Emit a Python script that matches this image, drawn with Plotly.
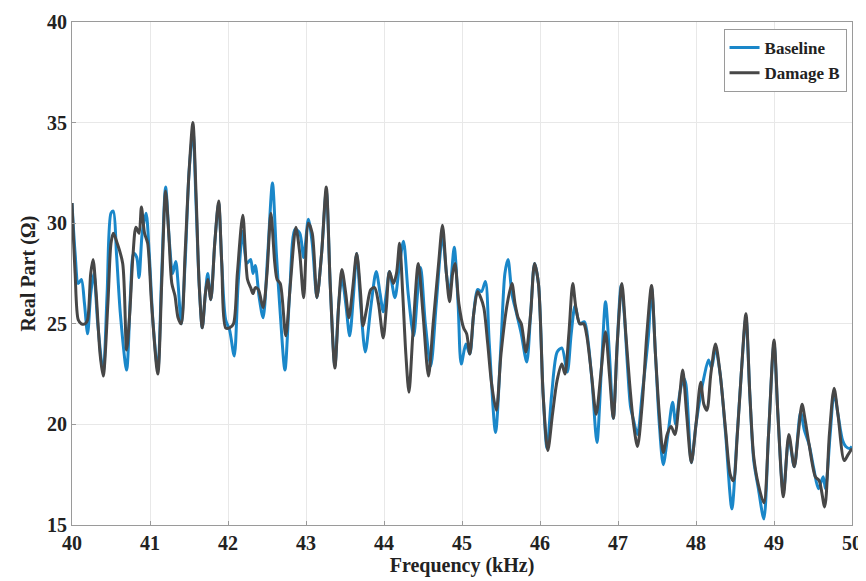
import plotly.graph_objects as go

base_f = [40.00,40.04,40.08,40.12,40.16,40.20,40.24,40.28,40.33,40.40,40.45,40.50,40.53,40.57,40.62,40.70,40.75,40.79,40.83,40.86,40.90,40.95,40.99,41.04,41.10,41.15,41.20,41.25,41.29,41.33,41.36,41.40,41.45,41.50,41.55,41.59,41.63,41.67,41.71,41.74,41.78,41.83,41.88,41.92,41.97,42.02,42.08,42.13,42.19,42.24,42.29,42.32,42.35,42.40,42.45,42.51,42.57,42.62,42.67,42.73,42.79,42.86,42.92,42.97,43.03,43.08,43.14,43.20,43.26,43.31,43.37,43.42,43.46,43.51,43.56,43.61,43.65,43.70,43.76,43.83,43.90,43.95,43.99,44.03,44.07,44.14,44.20,44.25,44.31,44.38,44.43,44.47,44.53,44.60,44.67,44.75,44.80,44.84,44.90,44.95,44.99,45.05,45.10,45.15,45.20,45.25,45.30,45.35,45.43,45.50,45.55,45.59,45.64,45.70,45.76,45.83,45.88,45.93,45.98,46.04,46.09,46.15,46.22,46.28,46.35,46.40,46.45,46.51,46.57,46.62,46.67,46.73,46.79,46.84,46.89,46.94,46.99,47.04,47.08,47.12,47.16,47.20,47.25,47.31,47.39,47.43,47.48,47.53,47.58,47.64,47.70,47.74,47.79,47.84,47.87,47.94,48.00,48.06,48.10,48.16,48.20,48.25,48.31,48.38,48.46,48.52,48.58,48.64,48.69,48.74,48.80,48.87,48.93,49.00,49.05,49.12,49.19,49.26,49.34,49.39,49.45,49.51,49.57,49.63,49.66,49.72,49.77,49.82,49.88,49.92,49.97,50.00]
base_r = [31.0,28.5,27.0,27.2,26.0,24.5,26.5,27.5,25.0,22.6,26.5,30.5,30.6,28.5,25.5,22.7,26.5,28.5,28.3,27.3,29.5,30.5,28.5,25.0,22.7,27.5,31.8,29.0,27.5,28.1,27.0,25.0,28.0,32.5,34.6,31.0,27.0,24.8,26.5,27.5,26.2,29.0,31.0,28.0,25.2,24.7,23.4,27.0,29.6,28.0,28.2,27.5,27.9,26.3,25.3,28.5,32.0,28.5,25.5,22.7,26.5,29.7,29.5,28.3,30.2,29.0,26.3,28.5,31.6,27.0,22.9,26.0,27.3,26.0,24.4,26.5,28.5,26.0,23.6,25.8,27.6,26.5,25.6,26.5,27.6,26.3,28.0,29.1,26.5,24.4,26.5,27.8,25.0,22.9,26.0,29.4,27.5,26.5,28.8,26.0,23.0,24.0,23.5,25.5,26.7,26.6,27.1,24.0,19.6,24.0,27.5,28.2,26.5,25.5,24.5,23.1,25.5,28.0,27.0,21.5,18.8,21.5,23.6,23.8,22.6,24.5,25.9,25.0,25.1,24.0,22.0,19.1,23.0,26.1,23.5,20.3,24.0,26.9,25.5,23.0,20.9,20.2,19.5,21.5,24.4,26.8,23.5,20.0,18.0,19.5,21.1,20.0,21.5,22.3,22.0,18.1,20.0,21.5,22.3,23.2,22.8,23.8,22.5,19.5,15.8,19.0,22.5,25.3,21.5,18.2,16.8,15.3,19.5,24.0,20.5,16.6,19.3,17.9,20.6,19.7,19.0,17.8,16.8,17.4,16.8,19.5,21.6,20.5,19.2,18.9,18.8,18.9]

dmg_f = [40.00,40.04,40.08,40.12,40.17,40.20,40.24,40.27,40.31,40.36,40.40,40.46,40.50,40.53,40.58,40.65,40.70,40.74,40.78,40.82,40.86,40.89,40.93,40.97,41.02,41.10,41.15,41.20,41.24,41.28,41.32,41.36,41.40,41.45,41.50,41.55,41.59,41.63,41.67,41.71,41.74,41.78,41.83,41.88,41.92,41.97,42.02,42.07,42.12,42.19,42.25,42.29,42.32,42.35,42.39,42.45,42.50,42.55,42.60,42.63,42.67,42.74,42.80,42.87,42.92,42.97,43.03,43.08,43.14,43.20,43.26,43.31,43.37,43.42,43.46,43.51,43.55,43.60,43.65,43.70,43.73,43.78,43.83,43.88,43.93,43.99,44.03,44.07,44.12,44.16,44.20,44.24,44.28,44.32,44.37,44.44,44.50,44.57,44.63,44.70,44.75,44.80,44.84,44.88,44.91,44.96,45.02,45.06,45.10,45.15,45.20,45.24,45.28,45.33,45.38,45.44,45.50,45.58,45.64,45.68,45.72,45.76,45.82,45.88,45.93,45.98,46.04,46.10,46.16,46.22,46.28,46.32,46.37,46.42,46.46,46.51,46.56,46.60,46.66,46.72,46.78,46.84,46.89,46.94,46.99,47.05,47.10,47.15,47.20,47.25,47.31,47.37,47.43,47.48,47.53,47.58,47.63,47.68,47.73,47.78,47.83,47.88,47.94,48.00,48.06,48.10,48.14,48.19,48.25,48.31,48.38,48.44,48.48,48.53,48.58,48.64,48.69,48.74,48.80,48.87,48.93,49.00,49.05,49.12,49.19,49.26,49.31,49.36,49.40,49.45,49.53,49.58,49.65,49.71,49.77,49.82,49.90,49.95,50.00]
dmg_r = [31.0,27.5,25.2,25.0,25.0,25.2,27.5,28.2,26.5,23.5,22.4,26.0,29.0,29.5,29.0,28.0,23.7,25.5,28.3,29.8,29.5,30.8,29.5,29.0,26.0,22.5,27.0,31.6,29.5,27.0,26.4,25.3,25.0,28.5,32.5,35.0,31.5,27.0,24.8,26.5,27.2,26.2,29.0,31.1,28.0,24.8,24.8,25.0,27.5,30.4,27.2,26.8,26.5,26.8,26.7,25.8,27.5,30.5,28.0,27.2,27.0,24.4,27.0,29.8,28.5,26.3,30.0,29.5,26.3,28.5,31.8,27.0,22.8,26.0,27.7,26.5,25.3,26.8,28.5,26.5,24.9,25.8,26.7,26.8,26.0,24.3,25.8,27.6,27.0,27.5,29.0,26.5,23.5,21.6,24.5,28.0,25.5,22.4,25.0,28.0,29.9,27.5,26.1,27.5,28.0,26.0,24.8,24.5,23.5,25.5,26.6,26.3,25.8,24.0,22.0,20.7,23.5,26.0,27.0,26.0,25.3,25.0,23.6,25.5,28.0,27.0,21.5,18.7,20.5,22.2,23.0,22.5,24.5,27.0,25.8,25.0,25.0,24.4,22.5,20.5,22.5,24.6,22.5,20.3,24.0,27.0,24.5,22.0,20.0,18.9,21.0,24.5,26.9,23.5,20.5,18.6,19.5,19.9,19.5,21.0,22.7,20.5,18.1,20.0,22.1,21.0,20.7,22.5,24.0,22.5,19.7,17.5,17.2,19.5,22.5,25.5,21.5,18.4,17.0,16.1,19.5,24.2,20.5,16.4,19.5,17.9,19.5,21.0,20.2,19.0,17.4,17.2,15.9,19.5,21.8,20.5,18.2,18.5,18.8]

x_ticks = [40, 41, 42, 43, 44, 45, 46, 47, 48, 49, 50]
y_ticks = [15, 20, 25, 30, 35, 40]

FONT = "Liberation Serif"

fig = go.Figure()
fig.add_trace(go.Scatter(x=base_f, y=base_r, mode="lines", name="Baseline",
                         line=dict(color="#1a87c9", width=3, shape="spline", smoothing=0.8)))
fig.add_trace(go.Scatter(x=dmg_f, y=dmg_r, mode="lines", name="Damage B",
                         line=dict(color="#474747", width=3, shape="spline", smoothing=0.8)))

axis_common = dict(showline=True, mirror=True, linecolor="#9a9a9a", linewidth=1,
                   showgrid=True, gridcolor="#e8e8e8", gridwidth=1, zeroline=False,
                   ticks="inside", ticklen=4, tickcolor="#9a9a9a", automargin=False,
                   tickfont=dict(family=FONT, size=20, color="#222", weight="bold"))

fig.update_xaxes(range=[40, 50], tickvals=x_ticks, ticktext=[str(v) for v in x_ticks],
                 title=dict(text="Frequency (kHz)", standoff=0,
                            font=dict(family=FONT, size=20, color="#222", weight="bold")),
                 **axis_common)
fig.update_yaxes(range=[15, 40], tickvals=y_ticks, ticktext=[str(v) for v in y_ticks],
                 title=dict(text="Real Part (Ω)", standoff=6,
                            font=dict(family=FONT, size=20, color="#222", weight="bold")),
                 **axis_common)

# page body has an 8px default margin, so the figure is sized to fit the window
fig.update_layout(
    width=858, height=573,
    margin=dict(l=64, r=14, t=14, b=56),
    plot_bgcolor="white", paper_bgcolor="white",
    legend=dict(x=0.993, y=0.986, xanchor="right", yanchor="top",
                bgcolor="white", bordercolor="#9a9a9a", borderwidth=1,
                font=dict(family=FONT, size=17, color="#222", weight="bold"),
                tracegroupgap=0, itemwidth=30),
    showlegend=True,
)

fig.write_html("out.html")
